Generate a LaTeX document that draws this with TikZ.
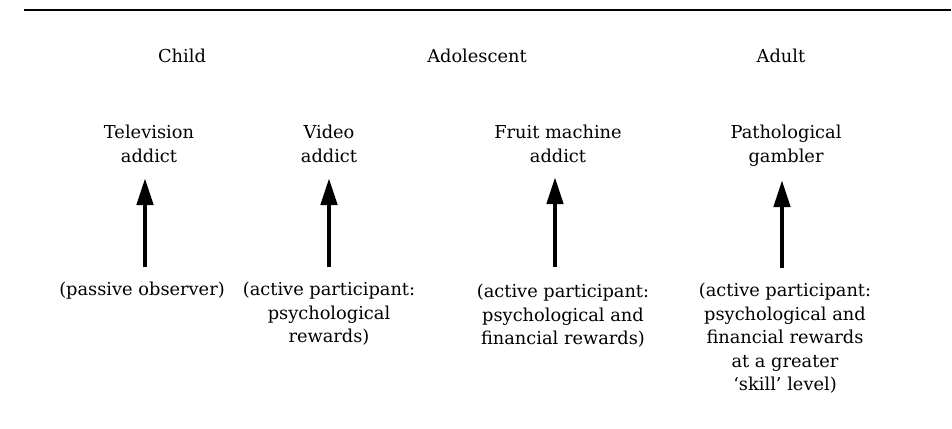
\documentclass[tikz,border=0pt]{standalone}
\usepackage{fontspec}
\setmainfont{DejaVu Serif}
\usepackage{tikz}
\usetikzlibrary{arrows.meta}

\begin{document}
\begin{tikzpicture}[%
      x=1pt,y=-1pt,
      stagetext/.style={font=\fontsize{17.8}{23.5}\selectfont, align=center, inner sep=0pt},
      uparrow/.style={line width=4.5pt, -{Triangle[length=27pt,width=16pt]}},
      ]
      \useasboundingbox (0,0) rectangle (952,428);
      \draw [line width=2pt] (24,10.5) -- (951,10.5);
      
      \node [stagetext, anchor=base] (child) at (182,63) {Child};
      \node [stagetext, anchor=base] (adolescent) at (477,63) {Adolescent};
      \node [stagetext, anchor=base] (adult) at (781,63) {Adult};
      
      \node [stagetext, anchor=north] (tvaddict) at (149,125) {Television\\addict};
      \node [stagetext, anchor=north] (videoaddict) at (329,125) {Video\\addict};
      \node [stagetext, anchor=north] (fruitaddict) at (558,125) {Fruit machine\\addict};
      \node [stagetext, anchor=north] (gambler) at (786,125) {Pathological\\gambler};
      
      \coordinate (tvtop) at (145,178);
      \coordinate (tvbot) at (145,267);
      \coordinate (videotop) at (329,178);
      \coordinate (videobot) at (329,267);
      \coordinate (fruittop) at (555,177);
      \coordinate (fruitbot) at (555,267);
      \coordinate (gamblertop) at (782,180);
      \coordinate (gamblerbot) at (782,268);
      
      \draw [uparrow] (tvbot) -- (tvtop);
      \draw [uparrow] (videobot) -- (videotop);
      \draw [uparrow] (fruitbot) -- (fruittop);
      \draw [uparrow] (gamblerbot) -- (gamblertop);
      
      \node [stagetext, anchor=north] (passive) at (142,282) {(passive observer)};
      \node [stagetext, anchor=north] (activepsy) at (329,282) {(active participant:\\psychological\\rewards)};
      \node [stagetext, anchor=north] (activefin) at (563,284) {(active participant:\\psychological and\\financial rewards)};
      \node [stagetext, anchor=north] (activeskill) at (785,283) {(active participant:\\psychological and\\financial rewards\\at a greater\\`skill' level)};
      \end{tikzpicture}
\end{document}
